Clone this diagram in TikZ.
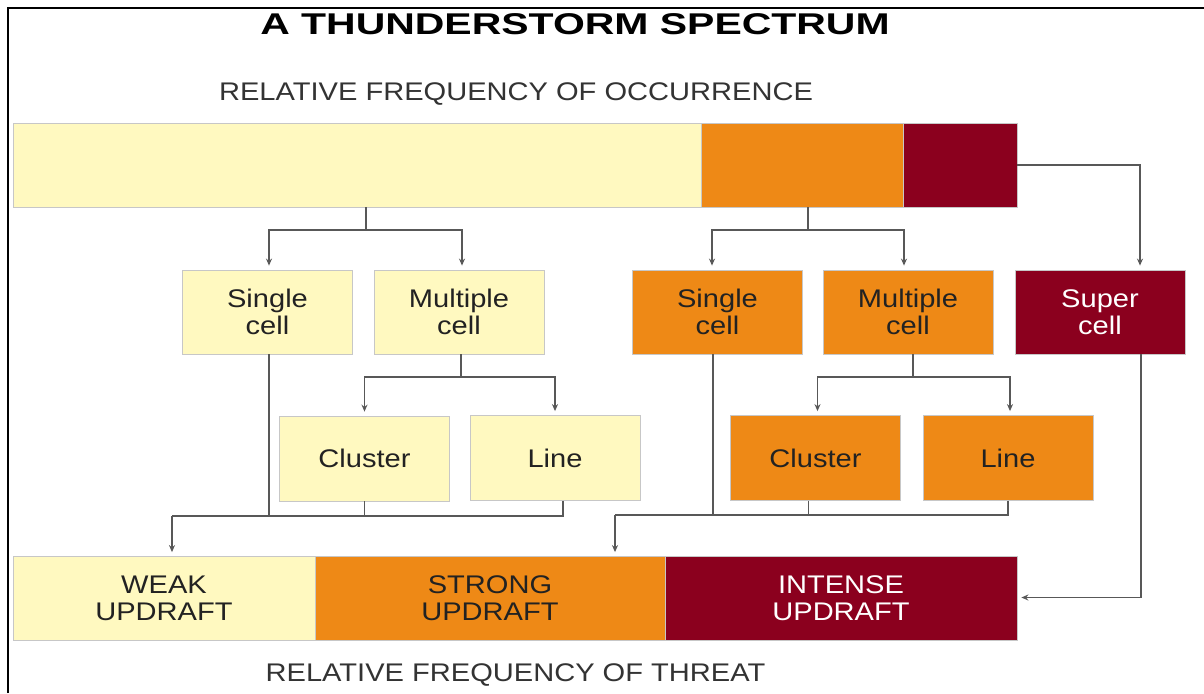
\documentclass[tikz,border=0pt]{standalone}
\usepackage{fontspec}
\setmainfont{Liberation Sans}[FakeStretch=1.14]
\newfontfamily\headfont{Liberation Sans}[FakeStretch=1.365]
\usetikzlibrary{arrows.meta,calc}

\definecolor{paleY}{RGB}{255,249,192}
\definecolor{orng}{RGB}{238,137,22}
\definecolor{maroon}{RGB}{139,0,30}
\definecolor{lineG}{RGB}{88,88,88}
\definecolor{txt}{RGB}{34,34,34}

\tikzset{
  lab/.style={font=\fontsize{25.5}{27}\selectfont, text=txt, align=center, inner sep=0pt},
  barbox/.style={lab, rectangle, minimum height=84pt, draw=black!22, line width=0.8pt},
  cellbox/.style={barbox, minimum width=170pt},
  ylw/.style={fill=paleY},
  org/.style={fill=orng},
  mar/.style={fill=maroon, text=white},
  conn/.style={draw=lineG, line width=1.5pt},
  arr/.style={conn, -{Stealth[length=7pt,width=6pt]}, shorten >=4pt},
}

\begin{document}
\begin{tikzpicture}[x=1pt,y=-1pt]
  \useasboundingbox (0,0) rectangle (1204,693);
  \fill[white] (0,0) rectangle (1204,693);

  % frame
  \draw[black, line width=2.6pt] (8,693) -- (8,8) -- (1204,8);

  % headings
  \node[anchor=base, inner sep=0pt, font=\headfont\bfseries\fontsize{30}{32}\selectfont] (title) at (575,35) {A THUNDERSTORM SPECTRUM};
  \node[lab, anchor=base, font=\fontsize{25.5}{27}\selectfont, text=black!80] (occ) at (516,100) {RELATIVE FREQUENCY OF OCCURRENCE};
  \node[lab, anchor=base, font=\fontsize{25.5}{27}\selectfont, text=black!80] (thr) at (515.5,681.7) {RELATIVE FREQUENCY OF THREAT};

  % occurrence bar
  \node[barbox, ylw, minimum width=688pt] (occY) at (357,165) {};
  \node[barbox, org, minimum width=202pt] (occO) at (802,165) {};
  \node[barbox, mar, minimum width=114pt] (occR) at (960,165) {};

  % storm types
  \node[cellbox, ylw] (sc1) at (267.5,312) {Single\\cell};
  \node[cellbox, ylw] (mc1) at (459,312) {Multiple\\cell};
  \node[cellbox, org] (sc2) at (717.5,312) {Single\\cell};
  \node[cellbox, org] (mc2) at (908,312) {Multiple\\cell};
  \node[cellbox, mar] (sup) at (1100,312) {Super\\cell};

  % multicell organisation
  \node[cellbox, ylw, minimum height=85pt] (cl1) at (364.5,458.5) {Cluster};
  \node[cellbox, ylw, minimum height=85pt] (ln1) at (555,458) {Line};
  \node[cellbox, org, minimum height=85pt] (cl2) at (815.5,458) {Cluster};
  \node[cellbox, org, minimum height=85pt] (ln2) at (1008,458) {Line};

  % threat bar
  \node[barbox, ylw, minimum width=302pt] (weak) at (164,598.5) {WEAK\\UPDRAFT};
  \node[barbox, org, minimum width=350pt] (strong) at (490,598.5) {STRONG\\UPDRAFT};
  \node[barbox, mar, minimum width=352pt] (intense) at (841,598.5) {INTENSE\\UPDRAFT};

  % junction points
  \coordinate (j1) at (366,230);
  \coordinate (j2) at (808,230);
  \coordinate (j3) at (461,377);
  \coordinate (j4) at (913,377);
  \coordinate (m1) at (172,516);
  \coordinate (m2) at (615,515);

  % occurrence bar -> storm types
  \draw[conn] (j1 |- occY.south) -- (j1);
  \draw[arr] (j1) -| ($(sc1.north)+(1.5,0)$);
  \draw[arr] (j1) -| ($(mc1.north)+(3,0)$);
  \draw[conn] (j2 |- occO.south) -- (j2);
  \draw[arr] (j2) -| ($(sc2.north)+(-5.5,0)$);
  \draw[arr] (j2) -| ($(mc2.north)+(-4,0)$);
  \draw[arr] (occR.east) -| ($(sup.north)+(40,0)$);

  % multiple cell -> cluster / line
  \draw[conn] (j3 |- mc1.south) -- (j3);
  \draw[arr] (j3) -| (cl1.north);
  \draw[arr] (j3) -| (ln1.north);
  \draw[conn] (j4 |- mc2.south) -- (j4);
  \draw[arr] (j4) -| ($(cl2.north)+(2,0)$);
  \draw[arr] (j4) -| ($(ln2.north)+(2,0)$);

  % storm types -> updraft strength
  \draw[conn] ($(ln1.south)+(8,0)$) |- (m1);
  \draw[conn] ($(sc1.south)+(1.5,0)$) -- ++(0,162);
  \draw[conn] (cl1.south) -- (cl1.south |- m1);
  \draw[arr] (m1) -- (m1 |- weak.north);

  \draw[conn] (ln2.south) |- (m2);
  \draw[conn] ($(sc2.south)+(-4.5,0)$) -- ++(0,161);
  \draw[conn] ($(cl2.south)+(-7,0)$) -- ++(0,15);
  \draw[arr] (m2) -- (m2 |- strong.north);

  \draw[arr] ($(sup.south)+(41,0)$) |- ($(intense.east)+(0,-1)$);
\end{tikzpicture}
\end{document}
